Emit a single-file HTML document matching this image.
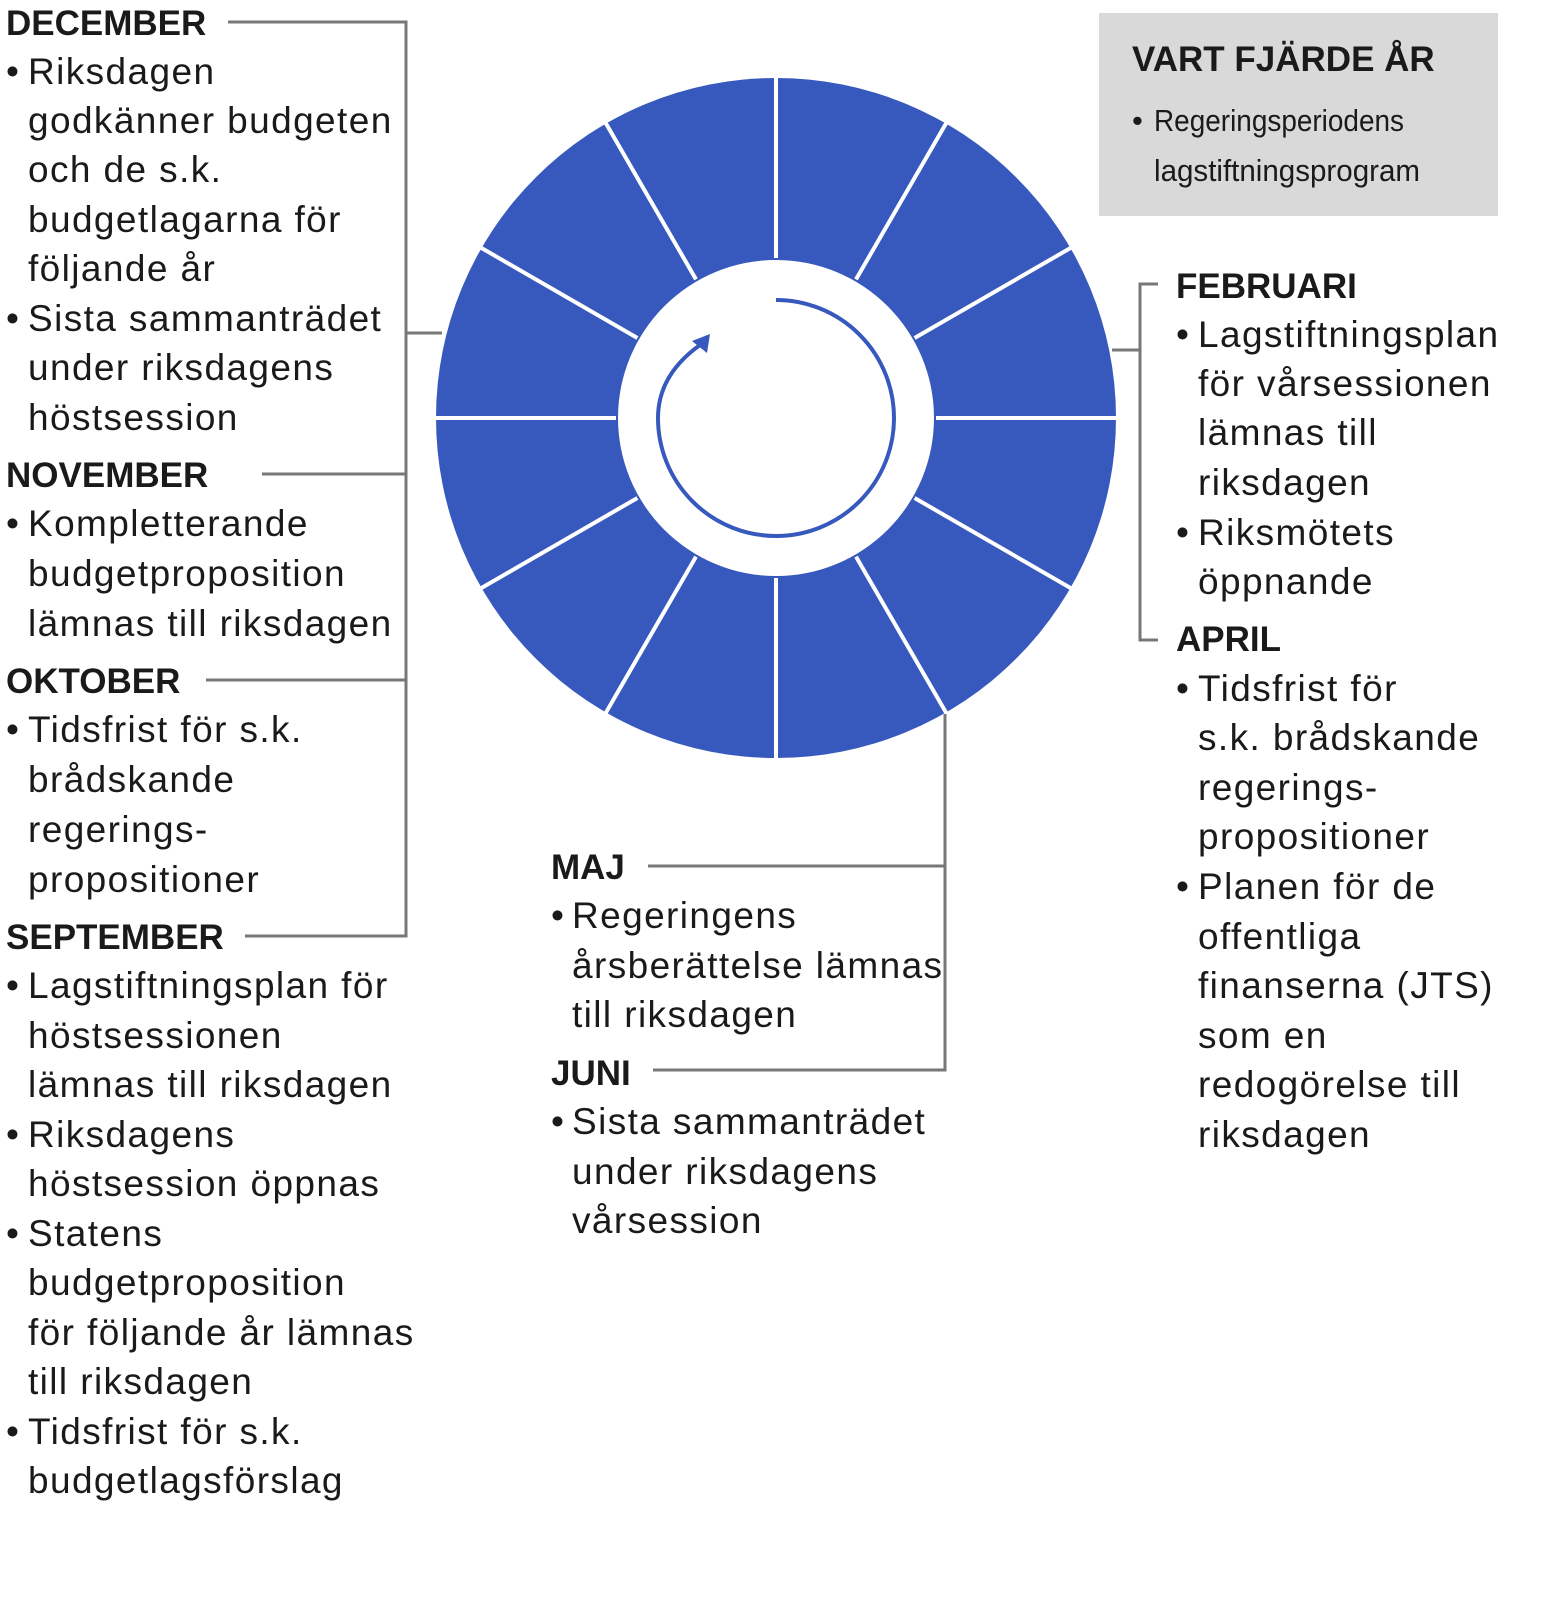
<!DOCTYPE html>
<html><head><meta charset="utf-8"><style>
html,body{margin:0;padding:0;background:#fff;}
svg text{font-family:"Liberation Sans",sans-serif;fill:#1a1a1a;}
.h{font-weight:bold;font-size:35px;}
.t{font-size:37px;letter-spacing:1.4px;}
.c{font-size:31px;}
</style></head><body>
<svg width="1543" height="1596" xmlns="http://www.w3.org/2000/svg">
<rect x="1099" y="13" width="399" height="203" fill="#d9d9d9"/>
<circle cx="776" cy="418" r="340" fill="#3759bd"/>
<circle cx="776" cy="418" r="158" fill="#fff"/>
<g stroke="#fff" stroke-width="4">
<line x1="776" y1="258" x2="776" y2="74"/>
<line x1="776" y1="578" x2="776" y2="762"/>
<line x1="616" y1="418" x2="432" y2="418"/>
<line x1="936" y1="418" x2="1120" y2="418"/>
<line x1="856" y1="279.4" x2="948" y2="120"/>
<line x1="696" y1="556.6" x2="604" y2="716"/>
<line x1="914.6" y1="338" x2="1074" y2="246"/>
<line x1="637.4" y1="498" x2="478" y2="590"/>
<line x1="914.6" y1="498" x2="1074" y2="590"/>
<line x1="637.4" y1="338" x2="478" y2="246"/>
<line x1="856" y1="556.6" x2="948" y2="716"/>
<line x1="696" y1="279.4" x2="604" y2="120"/>
</g>
<path d="M776 300 A118 118 0 1 1 658 418 Q658 375 700 345" fill="none" stroke="#3759bd" stroke-width="4"/>
<polygon points="710,334 692,341 707,353" fill="#3759bd"/>
<g stroke="#777" stroke-width="3" fill="none">
<polyline points="228,22 406,22 406,936 245,936"/>
<line x1="262" y1="474" x2="406" y2="474"/>
<line x1="206" y1="680" x2="406" y2="680"/>
<line x1="406" y1="333" x2="442" y2="333"/>
<polyline points="1158,284 1140,284 1140,640 1158,640"/>
<line x1="1112" y1="350" x2="1140" y2="350"/>
<polyline points="945,714 945,1070 653,1070"/>
<line x1="648" y1="866" x2="945" y2="866"/>
</g>
<g class="h">
<text x="6" y="35">DECEMBER</text>
<text x="6" y="487">NOVEMBER</text>
<text x="6" y="693">OKTOBER</text>
<text x="6" y="949">SEPTEMBER</text>
<text x="1176" y="298">FEBRUARI</text>
<text x="1176" y="651">APRIL</text>
<text x="551" y="879">MAJ</text>
<text x="551" y="1085">JUNI</text>
<text x="1132" y="71">VART FJÄRDE ÅR</text>
</g>
<g class="t">
<text x="6" y="84">•</text><text x="28" y="84">Riksdagen</text>
<text x="28" y="133">godkänner budgeten</text>
<text x="28" y="182">och de s.k.</text>
<text x="28" y="232">budgetlagarna för</text>
<text x="28" y="281">följande år</text>
<text x="6" y="331">•</text><text x="28" y="331">Sista sammanträdet</text>
<text x="28" y="380">under riksdagens</text>
<text x="28" y="430">höstsession</text>
<text x="6" y="536">•</text><text x="28" y="536">Kompletterande</text>
<text x="28" y="586">budgetproposition</text>
<text x="28" y="636">lämnas till riksdagen</text>
<text x="6" y="742">•</text><text x="28" y="742">Tidsfrist för s.k.</text>
<text x="28" y="792">brådskande</text>
<text x="28" y="842">regerings-</text>
<text x="28" y="892">propositioner</text>
<text x="6" y="998">•</text><text x="28" y="998">Lagstiftningsplan för</text>
<text x="28" y="1048">höstsessionen</text>
<text x="28" y="1097">lämnas till riksdagen</text>
<text x="6" y="1147">•</text><text x="28" y="1147">Riksdagens</text>
<text x="28" y="1196">höstsession öppnas</text>
<text x="6" y="1246">•</text><text x="28" y="1246">Statens</text>
<text x="28" y="1295">budgetproposition</text>
<text x="28" y="1345">för följande år lämnas</text>
<text x="28" y="1394">till riksdagen</text>
<text x="6" y="1444">•</text><text x="28" y="1444">Tidsfrist för s.k.</text>
<text x="28" y="1493">budgetlagsförslag</text>

<text x="1176" y="347">•</text><text x="1198" y="347">Lagstiftningsplan</text>
<text x="1198" y="396">för vårsessionen</text>
<text x="1198" y="445">lämnas till</text>
<text x="1198" y="495">riksdagen</text>
<text x="1176" y="545">•</text><text x="1198" y="545">Riksmötets</text>
<text x="1198" y="594">öppnande</text>
<text x="1176" y="701">•</text><text x="1198" y="701">Tidsfrist för</text>
<text x="1198" y="750">s.k. brådskande</text>
<text x="1198" y="800">regerings-</text>
<text x="1198" y="849">propositioner</text>
<text x="1176" y="899">•</text><text x="1198" y="899">Planen för de</text>
<text x="1198" y="949">offentliga</text>
<text x="1198" y="998">finanserna (JTS)</text>
<text x="1198" y="1048">som en</text>
<text x="1198" y="1097">redogörelse till</text>
<text x="1198" y="1147">riksdagen</text>

<text x="551" y="928">•</text><text x="572" y="928">Regeringens</text>
<text x="572" y="978">årsberättelse lämnas</text>
<text x="572" y="1027">till riksdagen</text>
<text x="551" y="1134">•</text><text x="572" y="1134">Sista sammanträdet</text>
<text x="572" y="1184">under riksdagens</text>
<text x="572" y="1233">vårsession</text>
</g>
<g class="c">
<text x="1132" y="131">•</text>
<text x="1154" y="131" textLength="250" lengthAdjust="spacingAndGlyphs">Regeringsperiodens</text>
<text x="1154" y="181" textLength="266" lengthAdjust="spacingAndGlyphs">lagstiftningsprogram</text>
</g>
</svg>
</body></html>
